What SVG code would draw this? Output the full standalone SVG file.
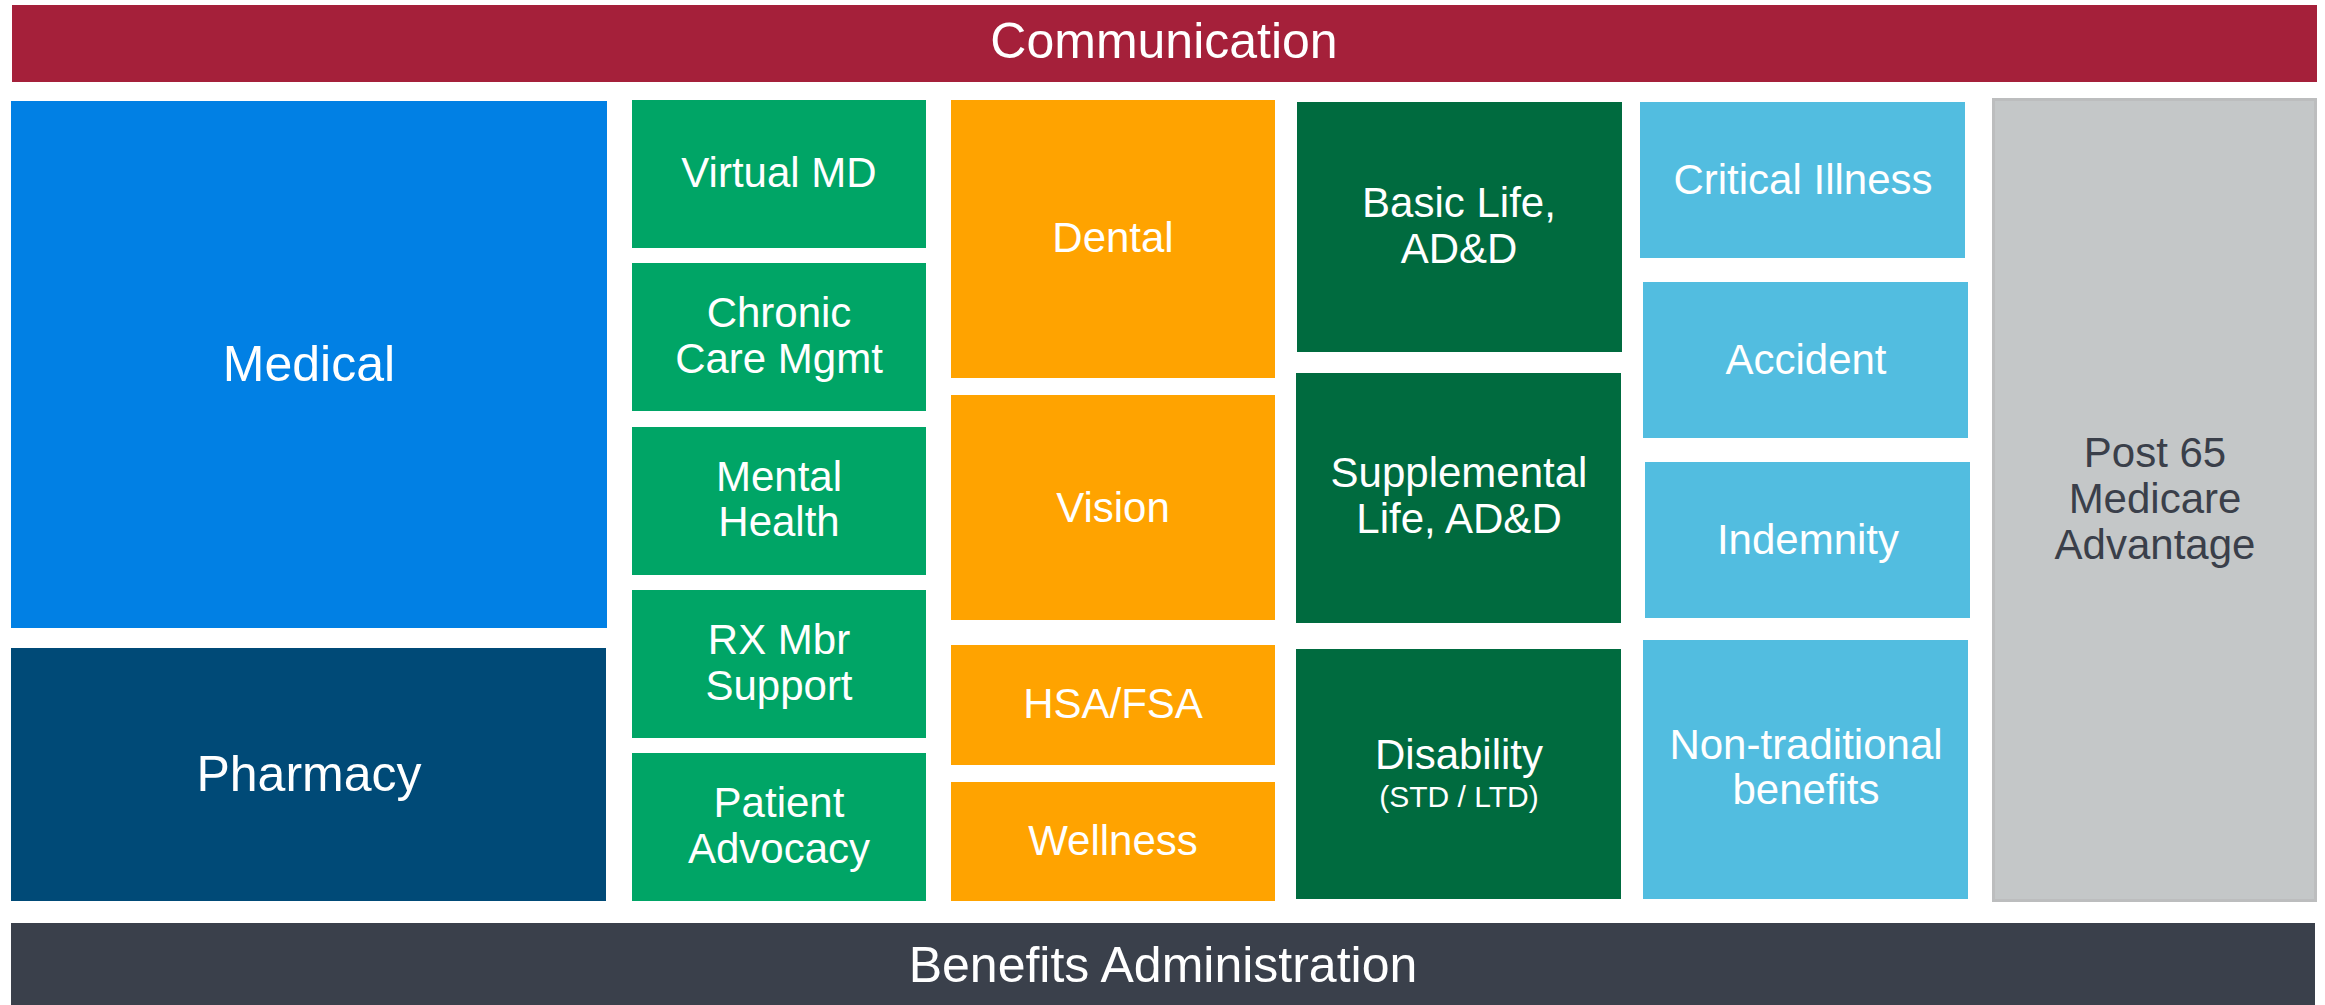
<svg xmlns="http://www.w3.org/2000/svg" width="2325" height="1005" viewBox="0 0 2325 1005">
  <style>
    text { font-family: "Liberation Sans", Arial, sans-serif; fill: #ffffff; text-anchor: middle; }
    .big { font-size: 50px; }
    .lbl { font-size: 42px; }
    .sub { font-size: 30px; }
    .dark { fill: #3a3f4a; }
    .comm { fill: #a5203a; }
    .med { fill: #0180e4; }
    .rx { fill: #004a77; }
    .grn { fill: #00a566; }
    .org { fill: #ffa300; }
    .dgrn { fill: #006b3f; }
    .lblue { fill: #52bde0; }
    .gray { fill: #c4c7c8; stroke: #bcbdbe; stroke-width: 3; }
    .admin { fill: #3a404b; }
  </style>

  <!-- top band -->
  <g id="communication">
    <rect class="comm" x="12" y="5" width="2305" height="77"/>
    <text class="big" x="1164" y="58">Communication</text>
  </g>

  <!-- core medical column -->
  <g id="medical">
    <rect class="med" x="11" y="101" width="596" height="527"/>
    <text x="309" y="381" style="font-size:50px">Medical</text>
  </g>
  <g id="pharmacy">
    <rect class="rx" x="11" y="648" width="595" height="253"/>
    <text x="309" y="791" style="font-size:50px">Pharmacy</text>
  </g>

  <!-- clinical programs column -->
  <g id="virtual-md">
    <rect class="grn" x="632" y="100" width="294" height="148"/>
    <text class="lbl" x="779" y="187">Virtual MD</text>
  </g>
  <g id="chronic-care">
    <rect class="grn" x="632" y="263" width="294" height="148"/>
    <text class="lbl" x="779" y="327">Chronic</text>
    <text class="lbl" x="779" y="373">Care Mgmt</text>
  </g>
  <g id="mental-health">
    <rect class="grn" x="632" y="427" width="294" height="148"/>
    <text class="lbl" x="779" y="491">Mental</text>
    <text class="lbl" x="779" y="536">Health</text>
  </g>
  <g id="rx-support">
    <rect class="grn" x="632" y="590" width="294" height="148"/>
    <text class="lbl" x="779" y="654">RX Mbr</text>
    <text class="lbl" x="779" y="700">Support</text>
  </g>
  <g id="patient-advocacy">
    <rect class="grn" x="632" y="753" width="294" height="148"/>
    <text class="lbl" x="779" y="817">Patient</text>
    <text class="lbl" x="779" y="863">Advocacy</text>
  </g>

  <!-- ancillary column -->
  <g id="dental">
    <rect class="org" x="951" y="100" width="324" height="278"/>
    <text class="lbl" x="1113" y="252">Dental</text>
  </g>
  <g id="vision">
    <rect class="org" x="951" y="395" width="324" height="225"/>
    <text class="lbl" x="1113" y="522">Vision</text>
  </g>
  <g id="hsa-fsa">
    <rect class="org" x="951" y="645" width="324" height="120"/>
    <text class="lbl" x="1113" y="718">HSA/FSA</text>
  </g>
  <g id="wellness">
    <rect class="org" x="951" y="782" width="324" height="119"/>
    <text class="lbl" x="1113" y="855">Wellness</text>
  </g>

  <!-- life and disability column -->
  <g id="basic-life">
    <rect class="dgrn" x="1297" y="102" width="325" height="250"/>
    <text class="lbl" x="1459" y="217">Basic Life,</text>
    <text class="lbl" x="1459" y="263">AD&amp;D</text>
  </g>
  <g id="supplemental-life">
    <rect class="dgrn" x="1296" y="373" width="325" height="250"/>
    <text class="lbl" x="1459" y="487">Supplemental</text>
    <text class="lbl" x="1459" y="533">Life, AD&amp;D</text>
  </g>
  <g id="disability">
    <rect class="dgrn" x="1296" y="649" width="325" height="250"/>
    <text class="lbl" x="1459" y="769">Disability</text>
    <text class="sub" x="1459" y="807">(STD / LTD)</text>
  </g>

  <!-- voluntary benefits column -->
  <g id="critical-illness">
    <rect class="lblue" x="1640" y="102" width="325" height="156"/>
    <text class="lbl" x="1803" y="194">Critical Illness</text>
  </g>
  <g id="accident">
    <rect class="lblue" x="1643" y="282" width="325" height="156"/>
    <text class="lbl" x="1806" y="374">Accident</text>
  </g>
  <g id="indemnity">
    <rect class="lblue" x="1645" y="462" width="325" height="156"/>
    <text class="lbl" x="1808" y="554">Indemnity</text>
  </g>
  <g id="non-traditional">
    <rect class="lblue" x="1643" y="640" width="325" height="259"/>
    <text class="lbl" x="1806" y="759">Non-traditional</text>
    <text class="lbl" x="1806" y="804">benefits</text>
  </g>

  <!-- retiree column -->
  <g id="post-65">
    <rect class="gray" x="1993.5" y="99.5" width="322" height="801"/>
    <text class="lbl dark" x="2155" y="467">Post 65</text>
    <text class="lbl dark" x="2155" y="513">Medicare</text>
    <text class="lbl dark" x="2155" y="559">Advantage</text>
  </g>

  <!-- bottom band -->
  <g id="benefits-administration">
    <rect class="admin" x="11" y="923" width="2304" height="82"/>
    <text class="big" x="1163" y="982">Benefits Administration</text>
  </g>

  <!-- no connectors in this layout -->
  <g id="connectors"/>
</svg>
